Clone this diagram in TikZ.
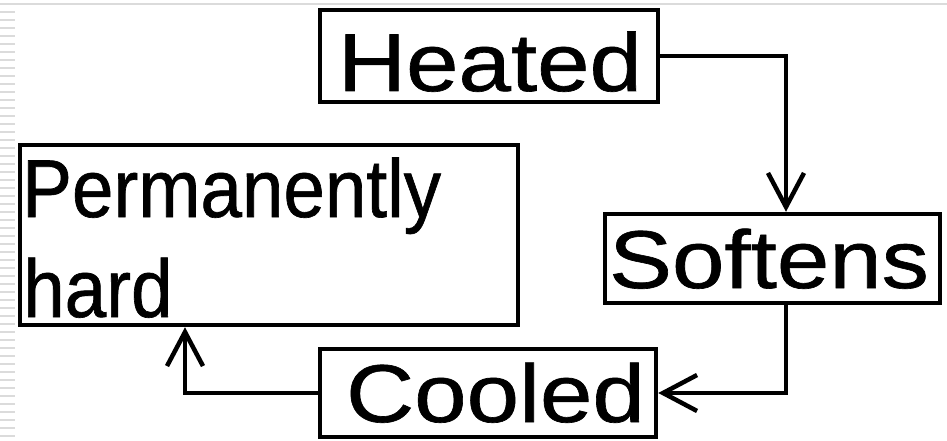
\documentclass[tikz,border=0pt]{standalone}
\usepackage{fontspec}
\setmainfont{Liberation Sans}[FakeStretch=1.15,FakeBold=0.8]
\newfontfamily\narrowfont{Liberation Sans}[FakeStretch=0.91,FakeBold=0.8]
\usetikzlibrary{arrows.meta,calc}
\begin{document}
\begin{tikzpicture}[x=1pt,y=-1pt,
  box/.style={draw=black,line width=4.5pt,rectangle,inner sep=0pt},
  lbl/.style={inner sep=0pt,font=\fontsize{82}{100}\selectfont},
  conn/.style={draw=black,line width=4.5pt,line join=miter,
    -{Straight Barb[length=34pt,width=36pt,line width=4.5pt]}},
  stripe/.style={draw=black!14,line width=2pt}]
\useasboundingbox (0,0) rectangle (947,441);
\fill[white] (0,0) rectangle (947,441);
% slide decoration
\draw[stripe] (0,4) -- (947,4);
\foreach \yy in {12,20,...,436} \draw[stripe] (0,\yy) -- (15,\yy);
% boxes
\node[box,minimum width=338pt,minimum height=92pt] (heated) at (489,56) {};
\node[box,minimum width=335pt,minimum height=89pt] (softens) at (772.5,258.5) {};
\node[box,minimum width=336pt,minimum height=88pt] (cooled) at (488,393) {};
\node[box,minimum width=498pt,minimum height=180pt] (perm) at (269,235) {};
% texts
\node[lbl,anchor=base] (theated) at (490,91) {Heated};
\node[lbl,anchor=base] (tsoftens) at (769,288) {Softens};
\node[lbl,anchor=base] (tcooled) at (495.5,422) {Cooled};
\node[lbl,anchor=base west,font=\fontsize{82}{100}\narrowfont] (tperm1) at (22,217) {Permanently};
\node[lbl,anchor=base west,font=\fontsize{82}{100}\narrowfont] (tperm2) at (23,317) {hard};
% connectors
\draw[conn] (heated.east) -| ([xshift=13.5pt]softens.north);
\draw[conn] ([xshift=13.5pt]softens.south) |- (cooled.east);
\draw[conn] (cooled.west) -| ([xshift=-84pt]perm.south);
\end{tikzpicture}
\end{document}
